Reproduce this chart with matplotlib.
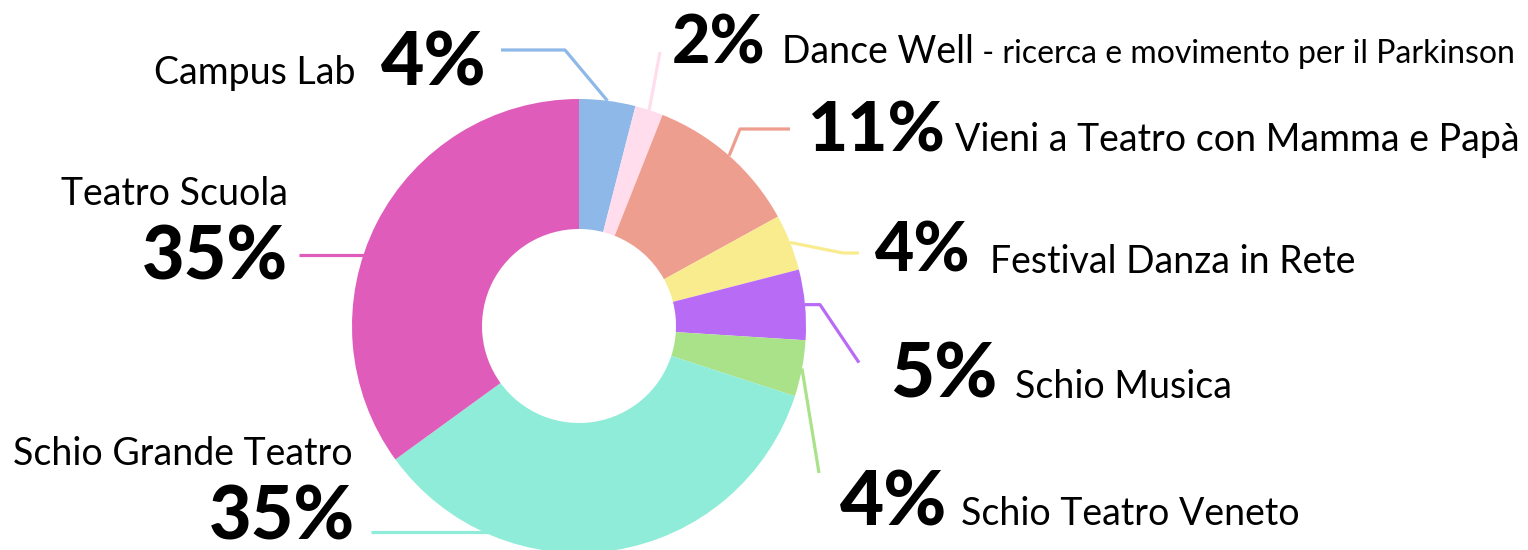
"""
Donut chart: ripartizione percentuale delle attività
"""
import numpy as np
import matplotlib.pyplot as plt

# dati
labels = ['Campus Lab', 'Dance Well', 'Vieni a Teatro con Mamma e Papà',
          'Festival Danza in Rete', 'Schio Musica', 'Schio Teatro Veneto',
          'Schio Grande Teatro', 'Teatro Scuola']
subtitles = ['', ' - ricerca e movimento per il Parkinson', '', '', '', '', '', '']
values = [4, 2, 11, 4, 5, 4, 35, 35]
colors = ['#8DB8E8', '#FFDDEC', '#EE9E8E', '#F8EC8E', '#B86CF5', '#AAE28A',
          '#8EECD8', '#E05CBA']

W, H = 1528, 550
CX, CY, R, R_IN = 579, 326, 227, 97

FONT = 'Lato'
NAME_SIZE = 27
SUB_SIZE = 23

# layout delle etichette (pixel): lato, x numero, baseline, x nome, punti linea
layout = [
    dict(side='L', num_x=487, num_y=86, name_x=355, name_y=84, size=54,
         line=[(565, 50), (501, 50)]),
    dict(side='R', num_x=672, num_y=64, name_x=782, name_y=63, size=48,
         line=[(660, 52)]),
    dict(side='R', num_x=808, num_y=152, name_x=955, name_y=151, size=50,
         line=[(740, 129), (790, 129)]),
    dict(side='R', num_x=875, num_y=272, name_x=990, name_y=273, size=49,
         line=[(843, 253), (859, 253)]),
    dict(side='R', num_x=890, num_y=397, name_x=1015, name_y=398, size=55,
         line='musica'),
    dict(side='R', num_x=840, num_y=525, name_x=961, name_y=525, size=55,
         line=[(819, 473)]),
    dict(side='LB', num_x=355, num_y=540, name_x=353, name_y=465, size=53,
         line_y=532, line_x0=371),
    dict(side='LB', num_x=288, num_y=279, name_x=288, name_y=205, size=53,
         line_y=255, line_x0=299),
]

fig = plt.figure(figsize=(W / 100, H / 100), dpi=100)
ax = fig.add_axes([0, 0, 1, 1])

wedges, _ = ax.pie(values, colors=colors, startangle=270, counterclock=True,
                   center=(CX, CY), radius=R,
                   wedgeprops=dict(width=R - R_IN, linewidth=0))
ax.set_xlim(0, W)
ax.set_ylim(H, 0)
ax.axis('off')

for w, lab, sub, v, c, lay in zip(wedges, labels, subtitles, values, colors, layout):
    mid = np.deg2rad((w.theta1 + w.theta2) / 2)
    sx, sy = CX + R * np.cos(mid), CY + R * np.sin(mid)
    if lay['side'] == 'LB':
        y = lay['line_y']
        ex = CX - np.sqrt(R ** 2 - (y - CY) ** 2)
        ax.plot([lay['line_x0'], ex + 4], [y, y], color=c, lw=2.3,
                solid_capstyle='butt', zorder=0)
    elif lay['line'] == 'musica':
        ax.plot([sx, sx + 15, 859], [sy, sy, sy + 58], color=c, lw=2.3,
                solid_capstyle='butt', zorder=0)
    else:
        pts = [(sx, sy)] + lay['line']
        ax.plot([p[0] for p in pts], [p[1] for p in pts], color=c, lw=2.3,
                solid_capstyle='butt', zorder=0)

    num = f'{v}%'
    ha = 'left' if lay['side'] == 'R' else 'right'
    ax.text(lay['num_x'], lay['num_y'], num, ha=ha, va='baseline',
            fontsize=lay['size'], fontweight='black', family=FONT, color='black')
    t = ax.text(lay['name_x'], lay['name_y'], lab, ha=ha, va='baseline',
                fontsize=NAME_SIZE, family=FONT, color='black')
    if sub:
        fig.canvas.draw()
        bb = t.get_window_extent()
        ax.text(lay['name_x'] + bb.width, lay['name_y'], sub, ha='left',
                va='baseline', fontsize=SUB_SIZE, family=FONT, color='black')

fig.savefig('out.png', dpi=100)
